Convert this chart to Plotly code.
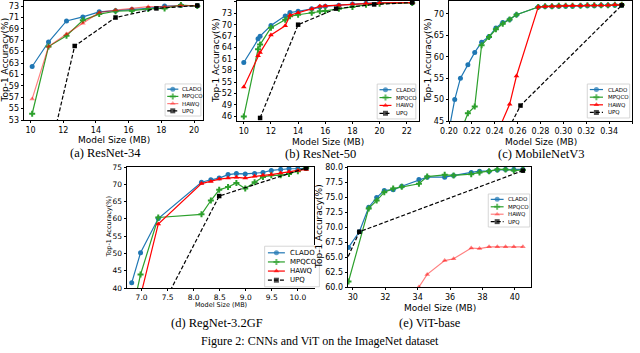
import plotly.graph_objects as go

W, H = 640, 353

# (a) ResNet-34
r34_x = [10.1, 11.1, 12.2, 13.2, 14.2, 15.2, 16.2, 17.2, 18.2, 19.2, 20.2]
r34_clado = [62.4, 66.7, 70.4, 71.1, 72.0, 72.2, 72.4, 72.6, 73.0, 73.1, 73.1]
r34_mpqco = [54.1, 65.9, 67.8, 70.5, 71.6, 72.1, 72.2, 72.5, 72.6, 73.2, 73.0]
r34_hawq = [56.7, 65.9, 68.1, 70.0, 71.9, 72.3, 72.6, 72.9, 72.9, 73.1, 73.1]
r34_upq_x = [10.1, 12.7, 15.2, 17.7, 20.2]
r34_upq = [34.0, 66.0, 71.0, 72.6, 73.1]

# (b) ResNet-50
r50_x = [10.0, 11.05, 11.2, 12.0, 13.05, 13.4, 14.0, 15.0, 15.6, 16.0, 17.0, 18.0, 19.0, 20.0, 22.4]
r50_clado = [60.1, 66.3, 67.0, 69.8, 72.3, 73.2, 73.5, 74.2, 74.6, 74.8, 75.1, 75.4, 75.6, 75.8, 75.8]
r50_mpqco = [46.0, 63.6, 64.8, 69.2, 71.3, 72.2, 72.6, 73.1, 73.5, 73.6, 74.2, 74.6, 75.2, 75.5, 75.7]
r50_hawq = [53.7, 61.9, 62.7, 67.3, 69.7, 72.5, 73.1, 74.1, 74.8, 74.9, 75.1, 75.4, 75.6, 75.7, 75.8]
r50_upq_x = [11.2, 14.0, 16.8, 19.6, 22.4]
r50_upq = [45.6, 70.0, 74.2, 75.3, 75.8]

# (c) MobileNetV3
mb_x = [0.200, 0.205, 0.210, 0.2165, 0.2225, 0.2285, 0.235, 0.241, 0.247, 0.253, 0.259,
        0.278, 0.284, 0.290, 0.296, 0.302, 0.308, 0.315, 0.321, 0.327, 0.333, 0.339, 0.345, 0.351]
mb_clado = [42.9, 50.0, 55.0, 58.1, 61.0, 63.4, 64.7, 66.7, 68.0, 68.7, 69.8,
            71.6, 71.7, 71.7, 71.8, 71.8, 71.8, 71.9, 71.9, 71.9, 72.0, 72.0, 72.0, 72.0]
mb_mpqco_x = mb_x[2:]
mb_mpqco = [42.3, 46.8, 48.4, 62.7, 64.6, 66.4, 67.7, 68.7, 69.8,
            71.6, 71.8, 71.8, 71.9, 71.9, 71.9, 71.9, 72.0, 72.0, 72.0, 72.0, 72.1, 72.1]
mb_hawq_x = [0.241, 0.253, 0.259] + mb_x[11:]
mb_hawq = [41.5, 48.9, 55.5, 71.6, 71.7, 71.8, 71.8, 71.9, 71.9, 71.9, 72.0, 72.0, 72.0, 72.0, 72.1, 72.1]
mb_upq_x = [0.219, 0.2625, 0.351]
mb_upq = [26.0, 48.6, 72.0]

# (d) RegNet-3.2GF
rg_x = [6.81, 6.98, 7.32, 8.15, 8.33, 8.49, 8.66, 8.82, 8.99, 9.17, 9.33, 9.49, 9.67, 9.83, 10.0, 10.16]
rg_clado = [41.5, 50.2, 60.1, 70.6, 71.3, 71.8, 72.8, 73.1, 73.0, 73.1, 73.4, 74.0, 74.3, 74.5, 74.5, 74.7]
rg_mpqco = [32.3, 43.9, 60.4, 61.3, 65.3, 68.4, 69.2, 70.4, 68.8, 70.6, 72.1, 72.6, 72.6, 73.0, 73.8, 74.7]
rg_hawq_x = rg_x[1:]
rg_hawq = [37.7, 58.5, 70.2, 70.8, 71.5, 71.8, 72.0, 71.8, 72.3, 72.6, 72.8, 73.3, 73.6, 74.0, 74.3]
rg_upq_x = [6.81, 8.49, 10.16]
rg_upq = [17.7, 66.6, 74.7]

# (e) ViT-base
vit_x = [29.73, 30.4, 30.98, 31.47, 31.94, 32.49, 33.02, 34.08, 34.59, 35.67, 36.22,
         37.31, 37.82, 38.41, 38.92, 39.43, 39.94, 40.5]
vit_clado = [66.6, 69.2, 73.3, 74.9, 76.1, 76.2, 76.8, 77.9, 78.3, 78.3, 78.6,
             79.1, 79.3, 79.3, 79.5, 79.6, 79.6, 79.6]
vit_mpqco_x = vit_x[:1] + vit_x[2:]
vit_mpqco = [60.9, 73.1, 74.4, 75.8, 76.4, 76.7, 77.2, 78.4, 78.7, 78.6, 78.8,
             79.1, 79.3, 79.6, 79.6, 79.4, 79.5]
vit_hawq_x = vit_x[7:]
vit_hawq = [60.0, 62.1, 64.4, 64.7, 66.5, 66.4, 66.7, 66.7, 66.7, 66.7, 66.7]
vit_upq_x = [25.0, 30.4, 40.5]
vit_upq = [36.8, 69.2, 79.4]

names = ["CLADO", "MPQCO", "HAWQ", "UPQ"]
colors = {"CLADO": "#1f77b4", "MPQCO": "#2ca02c", "HAWQ": "#ff0000", "UPQ": "black"}
symbols = {"CLADO": "circle", "MPQCO": "cross", "HAWQ": "triangle-up", "UPQ": "square"}

panels = [
    dict(series=[(r34_x, r34_clado), (r34_x, r34_mpqco), (r34_x, r34_hawq), (r34_upq_x, r34_upq)],
         box=(24, 203, 1, 120), xr=[9.6, 20.55], yr=[53, 73.9], x0=10, dx=2, y0=53, dy=2,
         xf="", yf="", light=True, tf=8, leg=(164, 202, 83, 117), lf=5.5,
         ytx=5, xty=140, cap="(a) ResNet-34", capx=105, capy=153, tt=9),
    dict(series=[(r50_x, r50_clado), (r50_x, r50_mpqco), (r50_x, r50_hawq), (r50_upq_x, r50_upq)],
         box=(237, 419, 1, 121), xr=[9.5, 22.9], yr=[44.8, 76.2], x0=10, dx=2, y0=46, dy=3,
         xf="", yf="", light=False, tf=8, leg=(376, 417, 83, 120), lf=5.5,
         ytx=216, xty=142, cap="(b) ResNet-50", capx=320, capy=154, tt=9),
    dict(series=[(mb_x, mb_clado), (mb_mpqco_x, mb_mpqco), (mb_hawq_x, mb_hawq), (mb_upq_x, mb_upq)],
         box=(449, 632, 1, 121), xr=[0.2, 0.36], yr=[45, 73], x0=0.2, dx=0.02, y0=45, dy=5,
         xf=".2f", yf="", light=False, tf=8, leg=(586, 631, 83, 119), lf=5.5,
         ytx=428, xty=142, cap="(c) MobileNetV3", capx=541, capy=154, tt=9),
    dict(series=[(rg_x, rg_clado), (rg_x, rg_mpqco), (rg_hawq_x, rg_hawq), (rg_upq_x, rg_upq)],
         box=(127, 314, 167, 288), xr=[6.72, 10.31], yr=[40, 75], x0=7, dx=0.5, y0=40, dy=5,
         xf=".1f", yf="", light=False, tf=7.5, leg=(263, 321, 245, 288), lf=7,
         ytx=108, xty=305, cap="(d) RegNet-3.2GF", capx=217, capy=323, tt=6.5),
    dict(series=[(vit_x, vit_clado), (vit_mpqco_x, vit_mpqco), (vit_hawq_x, vit_hawq), (vit_upq_x, vit_upq)],
         box=(348, 531, 167, 287), xr=[29.7, 41.0], yr=[60, 80], x0=30, dx=2, y0=60, dy=2.5,
         xf="", yf=".1f", light=True, tf=8, leg=(487, 531, 193, 228), lf=5.5,
         ytx=319, xty=308, cap="(e) ViT-base", capx=430, capy=323, tt=9),
]

tickfont = "DejaVu Sans"
serif = "Liberation Serif"

fig = go.Figure()
annotations = []


def note(x, y, text, size, family=tickfont, angle=0, xref="paper", yref="paper", xanchor="center"):
    annotations.append(dict(x=x, y=y, xref=xref, yref=yref, text=text, textangle=angle,
                            showarrow=False, xanchor=xanchor, yanchor="middle",
                            font=dict(family=family, size=size, color="black")))


for i, p in enumerate(panels):
    n = i + 1
    sfx = "" if n == 1 else str(n)
    x0, x1, y0, y1 = p["box"]
    for name, (xs, ys) in zip(names, p["series"]):
        c = colors[name]
        if name == "HAWQ" and p["light"]:
            c = "rgba(255,0,0,0.5)"
        fig.add_trace(go.Scatter(
            x=xs, y=ys, xaxis="x" + sfx, yaxis="y" + sfx, mode="lines+markers", showlegend=False,
            line=dict(color=c, width=1.2, dash="4px,2px" if name == "UPQ" else "solid"),
            marker=dict(symbol=symbols[name], size=5 if name != "UPQ" else 4.5, color=c,
                        line=dict(width=0))))
    axis_common = dict(showline=True, mirror=True, linecolor="black", linewidth=0.8,
                       ticks="outside", ticklen=2.5, tickwidth=0.8, tickcolor="black",
                       showgrid=False, zeroline=False, automargin=False,
                       tickfont=dict(family=tickfont, size=p["tf"], color="black"))
    fig.update_layout(**{
        "xaxis" + sfx: dict(domain=[x0 / W, x1 / W], anchor="y" + sfx, range=p["xr"],
                            tick0=p["x0"], dtick=p["dx"], tickformat=p["xf"], **axis_common),
        "yaxis" + sfx: dict(domain=[1 - y1 / H, 1 - y0 / H], anchor="x" + sfx, range=p["yr"],
                            tick0=p["y0"], dtick=p["dy"], tickformat=p["yf"], **axis_common),
    })

    # axis titles and caption
    note(p["ytx"] / W, 1 - (y0 + y1) / 2 / H, "Top-1 Accuracy(%)", p["tt"], angle=-90)
    note((x0 + x1) / 2 / W, 1 - p["xty"] / H, "Model Size (MB)", p["tt"])
    note(p["capx"] / W, 1 - p["capy"] / H, p["cap"], 12.5, family=serif)

    # legend drawn in its own small axis
    m = n + 5
    lx0, lx1, ly0, ly1 = p["leg"]
    fig.update_layout(**{
        f"xaxis{m}": dict(domain=[lx0 / W, lx1 / W], anchor=f"y{m}", range=[-0.03, 1.03],
                          visible=False, fixedrange=True, automargin=False),
        f"yaxis{m}": dict(domain=[1 - ly1 / H, 1 - ly0 / H], anchor=f"x{m}", range=[-0.03, 1.03],
                          visible=False, fixedrange=True, automargin=False),
    })
    fig.add_trace(go.Scatter(x=[0, 1, 1, 0, 0], y=[0, 0, 1, 1, 0], xaxis=f"x{m}", yaxis=f"y{m}",
                             mode="lines", fill="toself", fillcolor="rgba(255,255,255,0.85)",
                             line=dict(color="#cccccc", width=0.8), showlegend=False, hoverinfo="skip"))
    for k, name in enumerate(names):
        c = colors[name]
        if name == "HAWQ" and p["light"]:
            c = "rgba(255,0,0,0.5)"
        row = 1 - (0.05 + 0.9 * (k + 0.5) / 4)
        fig.add_trace(go.Scatter(
            x=[0.06, 0.215, 0.37], y=[row] * 3, xaxis=f"x{m}", yaxis=f"y{m}", mode="lines+markers",
            showlegend=False, hoverinfo="skip",
            line=dict(color=c, width=1.2, dash="4px,2px" if name == "UPQ" else "solid"),
            marker=dict(symbol=symbols[name], size=[0, 5, 0], color=c, line=dict(width=0))))
        note(0.43, row, name, p["lf"], xref=f"x{m}", yref=f"y{m}", xanchor="left")

note(0.5, 1 - 341 / H, "Figure 2: CNNs and ViT on the ImageNet dataset", 12, family=serif)

fig.update_layout(width=W, height=H, margin=dict(l=0, r=0, t=0, b=0), template="none",
                  paper_bgcolor="white", plot_bgcolor="white", annotations=annotations,
                  hovermode=False)

# the page's default body margin would push the 640x353 figure out of the window
fig.write_html("out.html", config={"displayModeBar": False},
               post_script="document.body.style.margin='0';")
